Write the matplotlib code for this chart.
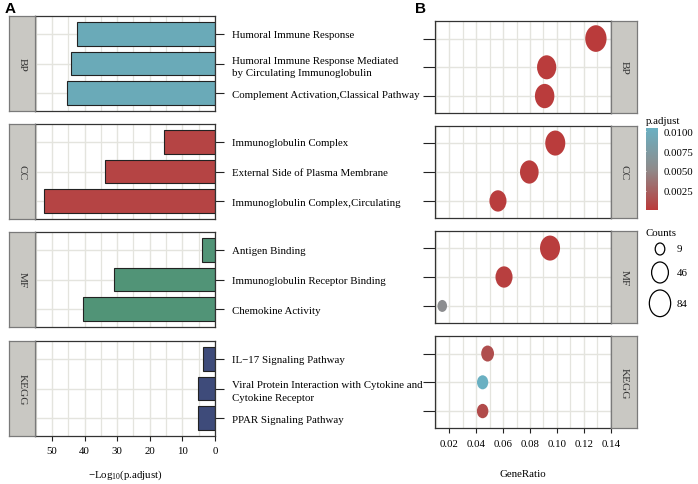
import matplotlib
matplotlib.use("Agg")
import matplotlib.pyplot as plt
import numpy as np
from matplotlib.path import Path
from matplotlib.transforms import Affine2D
from matplotlib.colors import LinearSegmentedColormap, Normalize
from matplotlib.cm import ScalarMappable

plt.rcParams["font.family"] = ["Liberation Serif", "DejaVu Serif"]
plt.rcParams["mathtext.fontset"] = "custom"
plt.rcParams["mathtext.rm"] = "Liberation Serif"

groups = ["BP", "CC", "MF", "KEGG"]
terms = [
    ["Humoral Immune Response",
     "Humoral Immune Response Mediated\nby Circulating Immunoglobulin",
     "Complement Activation,Classical Pathway"],
    ["Immunoglobulin Complex",
     "External Side of Plasma Membrane",
     "Immunoglobulin Complex,Circulating"],
    ["Antigen Binding",
     "Immunoglobulin Receptor Binding",
     "Chemokine Activity"],
    ["IL\u221217 Signaling Pathway",
     "Viral Protein Interaction with Cytokine and\nCytokine Receptor",
     "PPAR Signaling Pathway"],
]
neglog_p = [[42.2, 44.2, 45.3], [15.5, 33.7, 52.5], [3.9, 30.9, 40.5], [3.8, 5.1, 5.1]]
gene_ratio = [[0.129, 0.0924, 0.0909], [0.0988, 0.0795, 0.0562],
              [0.0949, 0.0607, 0.0148], [0.0485, 0.0448, 0.0448]]
counts = [[84, 65, 67], [72, 60, 48], [72, 48, 9], [22, 15, 16]]
padj = [[0.00016, 0.0002, 0.0002], [0.0002, 0.0003, 0.0003],
        [0.0003, 0.0004, 0.0056], [0.0014, 0.01034, 0.0012]]
bar_colors = ["#6AAAB8", "#B54444", "#519477", "#3E4B7A"]
size_breaks = [9, 46, 84]
cbar_ticks = [0.0025, 0.0050, 0.0075, 0.0100]

W, H = 698, 485
fig = plt.figure(figsize=(W / 100, H / 100), dpi=100)

def px_axes(x0, y0, x1, y1):
    return fig.add_axes([x0 / W, 1 - y1 / H, (x1 - x0) / W, (y1 - y0) / H])

grid_c = "#E4E4DE"
strip_c = "#C9C8C3"
fs = 7.8

ellipse = Path.unit_circle().transformed(Affine2D().scale(0.8, 1.0))

def diam_px(c):
    return 4.85 + 2.38 * np.sqrt(c)

def diam_pt(c):
    return diam_px(c) * 0.72

cmap = LinearSegmentedColormap.from_list("padj", ["#BA3B3B", "#8E8B8B", "#6AB0C2"])
all_p = [p for row in padj for p in row]
norm = Normalize(vmin=min(all_p), vmax=max(all_p))

rows_a = [(17, 112), (125, 220), (233, 328), (342, 437)]
rows_b = [(22.3, 114.3), (126.7, 219.3), (231.7, 324.3), (337.3, 429.3)]

def style_panel(ax):
    ax.set_facecolor("white")
    for s in ax.spines.values():
        s.set_color("#333333")
        s.set_linewidth(0.9)
    ax.grid(True, which="major", color=grid_c, lw=1.0, zorder=0)
    ax.grid(True, which="minor", axis="x", color=grid_c, lw=0.9, zorder=0)
    ax.set_axisbelow(True)
    ax.set_ylim(2.6, -0.6)
    ax.set_yticks(range(3))

def strip(x0, x1, y0, y1, text):
    sa = px_axes(x0, y0, x1, y1)
    sa.set_facecolor(strip_c)
    sa.set_xticks([])
    sa.set_yticks([])
    for s in sa.spines.values():
        s.set_color("#7A7A7A")
        s.set_linewidth(0.9)
    sa.text(0.5, 0.5, text, rotation=-90, ha="center", va="center",
            fontsize=8.2, color="#333333", transform=sa.transAxes)

for i, g in enumerate(groups):
    y0, y1 = rows_a[i]
    ax = px_axes(35, y0, 215, y1)
    style_panel(ax)
    ypos = np.arange(3)
    ax.barh(ypos, neglog_p[i], height=0.8, color=bar_colors[i],
            edgecolor="#222222", lw=0.8, zorder=2)
    ax.set_xlim(55.2, 0)
    ax.set_xticks(np.arange(0, 51, 10))
    ax.set_xticks(np.arange(5, 56, 10), minor=True)
    ax.yaxis.tick_right()
    ax.set_yticklabels(terms[i], fontsize=fs, ha="left", linespacing=1.5)
    ax.tick_params(axis="y", length=6.5, width=0.8, color="#222222", pad=6)
    ax.tick_params(axis="x", which="minor", length=0)
    if i == 3:
        ax.tick_params(axis="x", length=3.5, width=0.8, color="#222222",
                       labelsize=fs, pad=4)
        ax.set_xlabel(r"$-$Log$_{10}$(p.adjust)", fontsize=fs, labelpad=9)
    else:
        ax.tick_params(axis="x", length=0, labelbottom=False)
    strip(9, 35, y0, y1, g)

    y0, y1 = rows_b[i]
    bx = px_axes(435, y0, 610.7, y1)
    style_panel(bx)
    bx.scatter(gene_ratio[i], ypos, s=[diam_pt(c) ** 2 for c in counts[i]],
               c=padj[i], cmap=cmap, norm=norm, marker=ellipse,
               linewidths=0, zorder=3)
    bx.set_xlim(0.0094, 0.140)
    bx.set_xticks(np.arange(0.02, 0.141, 0.02))
    bx.set_xticks(np.arange(0.01, 0.14, 0.02), minor=True)
    bx.set_yticklabels([])
    bx.tick_params(axis="y", length=9, width=0.8, color="#222222")
    bx.tick_params(axis="x", which="minor", length=0)
    if i == 3:
        bx.tick_params(axis="x", length=3.5, width=0.8, color="#222222",
                       labelsize=fs, pad=4)
        bx.set_xticklabels(["%.2f" % t for t in bx.get_xticks()])
        bx.set_xlabel("GeneRatio", fontsize=fs, labelpad=15)
    else:
        bx.tick_params(axis="x", length=0, labelbottom=False)
    strip(611, 637, y0, y1, g)

# colour bar
cax = px_axes(646, 129.3, 657.5, 210.7)
cb = fig.colorbar(ScalarMappable(norm=norm, cmap=cmap), cax=cax, ticks=cbar_ticks)
cb.outline.set_visible(False)
cb.ax.set_yticklabels(["%.4f" % t for t in cbar_ticks], fontsize=fs)
cb.ax.tick_params(length=2.5, width=0.6, color="white", pad=2)
cb.ax.tick_params(left=True)
fig.text(646 / W, 1 - 121 / H, "p.adjust", fontsize=fs, va="center", ha="left")

# size legend, drawn in pixel units
lax = px_axes(640, 240, 698, 320)
lax.set_xlim(640, 698)
lax.set_ylim(320, 240)
lax.axis("off")
gap = 7
d = [diam_px(c) for c in size_breaks]
centers = 240 + np.cumsum([0] + [gap + (a + b) / 2 for a, b in zip(d[:-1], d[1:])]) + d[0] / 2 + 4
lax.scatter([660] * len(size_breaks), centers, s=[diam_pt(c) ** 2 for c in size_breaks],
            marker=ellipse, facecolors="white", edgecolors="black", linewidths=0.9,
            clip_on=False)
for c, yc in zip(size_breaks, centers):
    lax.text(677, yc, str(c), fontsize=fs, va="center", ha="left")
fig.text(646 / W, 1 - 233 / H, "Counts", fontsize=fs, va="center", ha="left")

fig.text(5 / W, 1 - 9 / H, "A", fontsize=11, fontweight="bold",
         family="Liberation Sans", va="center", ha="left")
fig.text(415 / W, 1 - 9 / H, "B", fontsize=11, fontweight="bold",
         family="Liberation Sans", va="center", ha="left")

fig.savefig("out.png", dpi=100)
